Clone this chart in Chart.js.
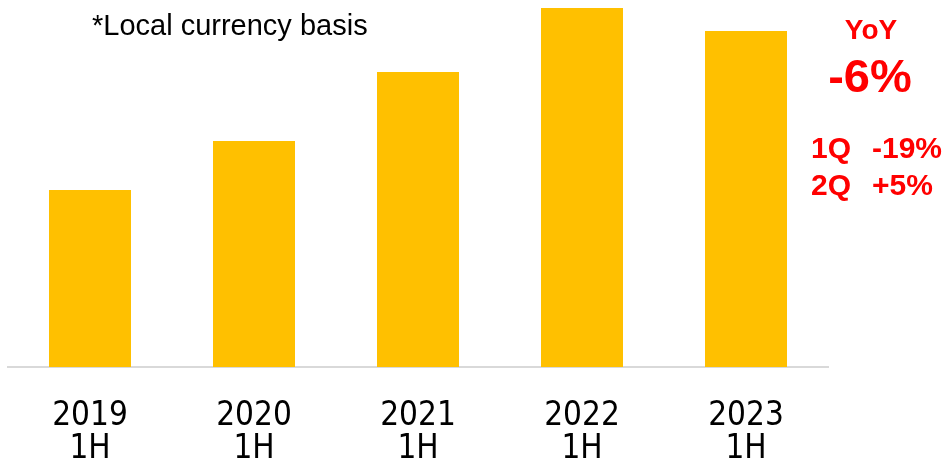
<!DOCTYPE html>
<html>
<head>
<meta charset="utf-8">
<script src="https://cdn.jsdelivr.net/npm/chart.js@4/dist/chart.umd.min.js"></script>
<style>
  html, body { margin: 0; padding: 0; background: #fff; }
  #wrap { width: 948px; height: 461px; }
</style>
</head>
<body>
<div id="wrap"><canvas id="sales-chart"></canvas></div>
<script>
const years = ["2019", "2020", "2021", "2022", "2023"]
const halves = ["1H", "1H", "1H", "1H", "1H"]
const sales = [177, 226, 295, 359, 336] // relative bar heights, no axis shown

const note = "*Local currency basis"
const yoyTitle = "YoY"
const yoyValue = "-6%"
const quarters = ["1Q", "2Q"]
const quarterChange = ["-19%", "+5%"]

// text that sits outside the plot, drawn onto the canvas
const notesPlugin = {
    id: 'notes',
    afterDraw(chart) {
        const ctx = chart.ctx
        ctx.save()
        ctx.fillStyle = '#000'
        ctx.textBaseline = 'alphabetic'
        ctx.textAlign = 'left'
        ctx.font = '29px "Liberation Sans", Arial, sans-serif'
        ctx.fillText(note, 92, 35)

        ctx.fillStyle = '#FF0000'
        ctx.textAlign = 'center'
        ctx.font = 'bold 28px "Liberation Sans", Arial, sans-serif'
        ctx.fillText(yoyTitle, 871, 39)
        ctx.font = 'bold 47px "Liberation Sans", Arial, sans-serif'
        ctx.fillText(yoyValue, 870, 92)

        ctx.textAlign = 'left'
        ctx.font = 'bold 30px "Liberation Sans", Arial, sans-serif'
        quarters.forEach((q, i) => {
            const y = 158 + i * 37
            ctx.fillText(q, 811, y)
            ctx.fillText(quarterChange[i], 872, y)
        })
        ctx.restore()
    }
}

const salesCanvas = document.getElementById("sales-chart")

let salesData = {
    labels: years.map((y, i) => [y, halves[i]]),
    datasets: [{
        data: sales,
        backgroundColor: "#FFC000",
        categoryPercentage: 1.0,
        barPercentage: 0.5,
    }]
}

let salesChartOptions = {
    responsive: true,
    maintainAspectRatio: false,
    animation: false,
    layout: {
        padding: { left: 8, right: 120, top: 8, bottom: 0 }
    },
    plugins: {
        legend: { display: false },
        tooltip: { enabled: false }
    },
    scales: {
        x: {
            grid: { display: false, drawTicks: false },
            border: { display: true, color: "#D9D9D9", width: 2 },
            afterFit(scale) { scale.height = 94 },
            ticks: {
                color: '#000',
                padding: 33,
                maxRotation: 0,
                font: { family: '"DejaVu Sans Condensed", "DejaVu Sans", sans-serif', size: 33, lineHeight: 1.0 }
            }
        },
        y: {
            display: false,
            min: 0,
            max: 359
        }
    }
}

let barChart = new Chart(salesCanvas, {
    type: 'bar',
    data: salesData,
    options: salesChartOptions,
    plugins: [notesPlugin]
})
</script>
</body>
</html>
